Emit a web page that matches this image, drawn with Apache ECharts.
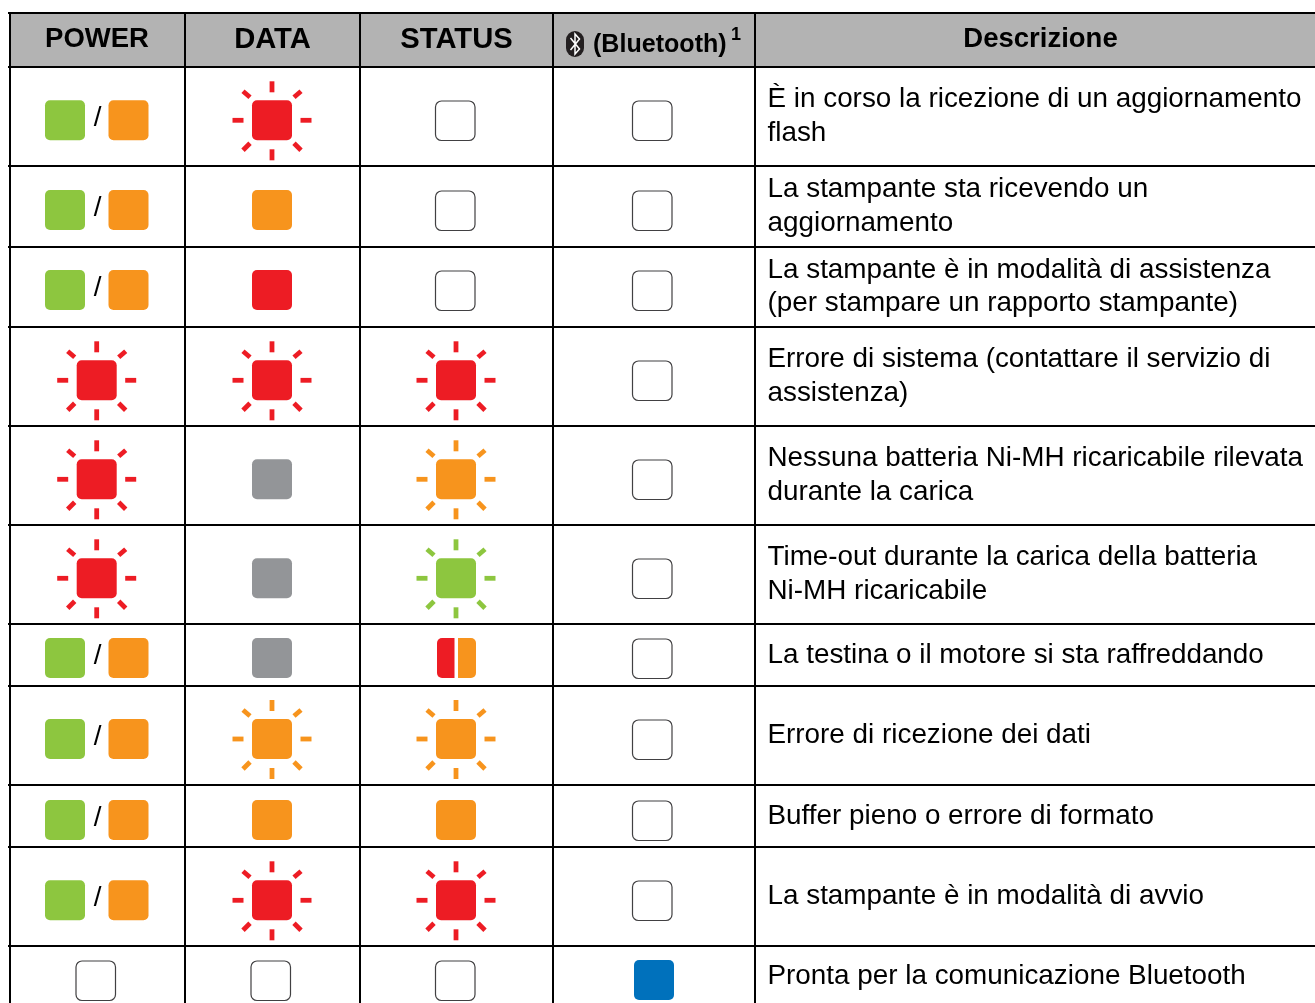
<!DOCTYPE html>
<html><head><meta charset="utf-8">
<style>html,body{margin:0;padding:0;background:#fff}#c{width:1315px;height:1003px}</style>
<script src="https://cdn.jsdelivr.net/npm/echarts@6/dist/echarts.min.js"></script>
</head><body><div id="c"></div>
<script>
// ---- content ----
const columns = ['POWER','DATA','STATUS','(Bluetooth)','Descrizione'];
const footnoteMark = '1';
const descriptions = [
  ['È in corso la ricezione di un aggiornamento','flash'],
  ['La stampante sta ricevendo un','aggiornamento'],
  ['La stampante è in modalità di assistenza','(per stampare un rapporto stampante)'],
  ['Errore di sistema (contattare il servizio di','assistenza)'],
  ['Nessuna batteria Ni-MH ricaricabile rilevata','durante la carica'],
  ['Time-out durante la carica della batteria','Ni-MH ricaricabile'],
  ['La testina o il motore si sta raffreddando'],
  ['Errore di ricezione dei dati'],
  ['Buffer pieno o errore di formato'],
  ['La stampante è in modalità di avvio'],
  ['Pronta per la comunicazione Bluetooth']
];
// lamp states: off, colour name, name* = blinking, green/orange = either, red|orange = split
const power = ['green/orange','green/orange','green/orange','red*','red*','red*','green/orange','green/orange','green/orange','green/orange','off'];
const data_ = ['red*','orange','red','red*','gray','gray','gray','orange*','orange','red*','off'];
const status_ = ['off','off','off','red*','orange*','green*','red|orange','orange*','orange','red*','off'];
const bluetooth = ['off','off','off','off','off','off','off','off','off','off','blue'];

// ---- layout (page pixels) ----
const colEdges = [10,185,360,553,755];
const rowEdges = [13,67,166,247,327,426,525,624,686,785,847,946];
const lampX = [96.7,272,456,654];
const offX = [96,271,455.5,652.5];
const lampY = [120.3,210,290,380.3,479.3,578.3,658,739,820,900.3,980];
const offY = [121,211,291,381,480,579,659,740,821,901,981];
const textY = [[99,133],[189,223],[270,303],[359,393],[458,492],[557,591],[655],[735],[816],[896],[976]];
const headY = 39.5;
const colors = {green:'#8dc63f',orange:'#f7941d',red:'#ed1c24',gray:'#939598',blue:'#0071bc'};
const FONT = '"Liberation Sans", Arial, sans-serif';
const BODY = 27.85, LINE = '#000000';
const headSize = [27.5,29.2,29.2,26,27.5];

const lampCols = [power,data_,status_,bluetooth];
const cells = [];
lampCols.forEach((c,i)=>c.forEach((s,r)=>cells.push(s==='off'?[offX[i],offY[r],i,r]:[lampX[i],lampY[r],i,r])));

function square(api,cx,cy,col){
  const a=api.coord([cx-20,cy-20]);
  return {type:'rect',shape:{x:a[0],y:a[1],width:40,height:40,r:5},style:{fill:col}};
}
function off(api,cx,cy){
  const a=api.coord([cx-20,cy-20]);
  return {type:'rect',shape:{x:a[0],y:a[1],width:39.5,height:39.5,r:6},style:{fill:'#fff',stroke:'#414042',lineWidth:1.2}};
}
const RAYS=[[0,-39,0,-28],[0,29,0,40],[-39.5,0,-28.5,0],[28.5,0,39.5,0],[-29,-29,-22,-23],[29,-29,22,-23],[-29,30,-22,23],[29,30,22,23]];
function rays(api,cx,cy,col){
  return RAYS.map(d=>{
    const a=api.coord([cx+d[0],cy+d[1]]),b=api.coord([cx+d[2],cy+d[3]]);
    return {type:'line',shape:{x1:a[0],y1:a[1],x2:b[0],y2:b[1]},style:{stroke:col,lineWidth:4.8}};
  });
}
function renderLamp(params,api){
  const cx=api.value(0),cy=api.value(1);
  const s=lampCols[api.value(2)][api.value(3)];
  const ch=[];
  if(s==='off') ch.push(off(api,cx,cy));
  else if(s==='green/orange'){
    ch.push(square(api,65,cy,colors.green));
    ch.push(square(api,128.5,cy,colors.orange));
    const m=api.coord([97.5,cy-1.5]);
    ch.push({type:'text',style:{x:m[0],y:m[1],text:'/',font:BODY+'px '+FONT,fill:'#000',align:'center',verticalAlign:'middle'}});
  } else if(s==='red|orange'){
    const a=api.coord([cx-19,cy-20]),b=api.coord([cx+2,cy-20]);
    ch.push({type:'rect',shape:{x:a[0],y:a[1],width:17.5,height:40,r:[5,0,0,5]},style:{fill:colors.red}});
    ch.push({type:'rect',shape:{x:b[0],y:b[1],width:18,height:40,r:[0,5,5,0]},style:{fill:colors.orange}});
  } else if(s.endsWith('*')){
    const col=colors[s.slice(0,-1)];
    ch.push(square(api,cx,cy,col),...rays(api,cx,cy,col));
  } else ch.push(square(api,cx,cy,colors[s]));
  return {type:'group',children:ch};
}
function renderFrame(params,api){
  const ch=[];
  const w=1315;
  const h0=api.coord([colEdges[0],rowEdges[0]]),h1=api.coord([w,rowEdges[1]]);
  ch.push({type:'rect',shape:{x:h0[0],y:h0[1],width:h1[0]-h0[0],height:h1[1]-h0[1]},style:{fill:'#b3b3b3'}});
  rowEdges.forEach(y=>{
    const a=api.coord([8,y]),b=api.coord([w,y]);
    ch.push({type:'line',shape:{x1:a[0],y1:a[1],x2:b[0],y2:b[1]},style:{stroke:LINE,lineWidth:2}});
  });
  colEdges.forEach(x=>{
    const a=api.coord([x,rowEdges[0]]),b=api.coord([x,1003]);
    ch.push({type:'line',shape:{x1:a[0],y1:a[1],x2:b[0],y2:b[1]},style:{stroke:LINE,lineWidth:2}});
  });
  return {type:'group',children:ch};
}
function renderText(params,api){
  const ch=[];
  const heads=[[97,0],[272.5,1],[456.5,2],[1040.5,4]];
  heads.forEach(h=>{
    const p=api.coord([h[0],headY]);
    ch.push({type:'text',style:{x:p[0],y:p[1],text:columns[h[1]],font:'bold '+headSize[h[1]]+'px '+FONT,fill:'#000',align:'center',verticalAlign:'middle'}});
  });
  // Bluetooth header: symbol, name, footnote mark
  const b0=api.coord([566,31]);
  ch.push({type:'rect',shape:{x:b0[0],y:b0[1],width:18,height:26,r:9},style:{fill:'#231f20'}});
  const rune=[[570.5,38],[579.5,49],[575,54],[575,34],[579.5,39],[570.5,50]].map(q=>api.coord(q));
  ch.push({type:'polyline',shape:{points:rune},style:{fill:'none',stroke:'#fff',lineWidth:1.5}});
  const bt=api.coord([593,44.5]);
  ch.push({type:'text',x:bt[0],y:bt[1],scaleX:0.964,style:{x:0,y:0,text:columns[3],font:'bold '+headSize[3]+'px '+FONT,fill:'#000',align:'left',verticalAlign:'middle'}});
  const sup=api.coord([736,35]);
  ch.push({type:'text',style:{x:sup[0],y:sup[1],text:footnoteMark,font:'bold 18px '+FONT,fill:'#000',align:'center',verticalAlign:'middle'}});
  descriptions.forEach((lines,r)=>lines.forEach((t,i)=>{
    const p=api.coord([767.5,textY[r][i]]);
    ch.push({type:'text',style:{x:p[0],y:p[1],text:t,font:BODY+'px '+FONT,fill:'#000',align:'left',verticalAlign:'middle'}});
  }));
  return {type:'group',children:ch};
}
const chart=echarts.init(document.getElementById('c'),null,{renderer:'canvas'});
chart.setOption({
  animation:false,
  backgroundColor:'#ffffff',
  grid:{left:0,right:0,top:0,bottom:0},
  xAxis:{type:'value',min:0,max:1315,show:false},
  yAxis:{type:'value',min:0,max:1003,inverse:true,show:false},
  series:[
    {type:'custom',name:'frame',data:[[0,0]],renderItem:renderFrame,clip:false,silent:true,z:1},
    {type:'custom',name:'lamps',data:cells,renderItem:renderLamp,clip:false,silent:true,z:2},
    {type:'custom',name:'text',data:[[0,0]],renderItem:renderText,clip:false,silent:true,z:3}
  ]
});
</script></body></html>
